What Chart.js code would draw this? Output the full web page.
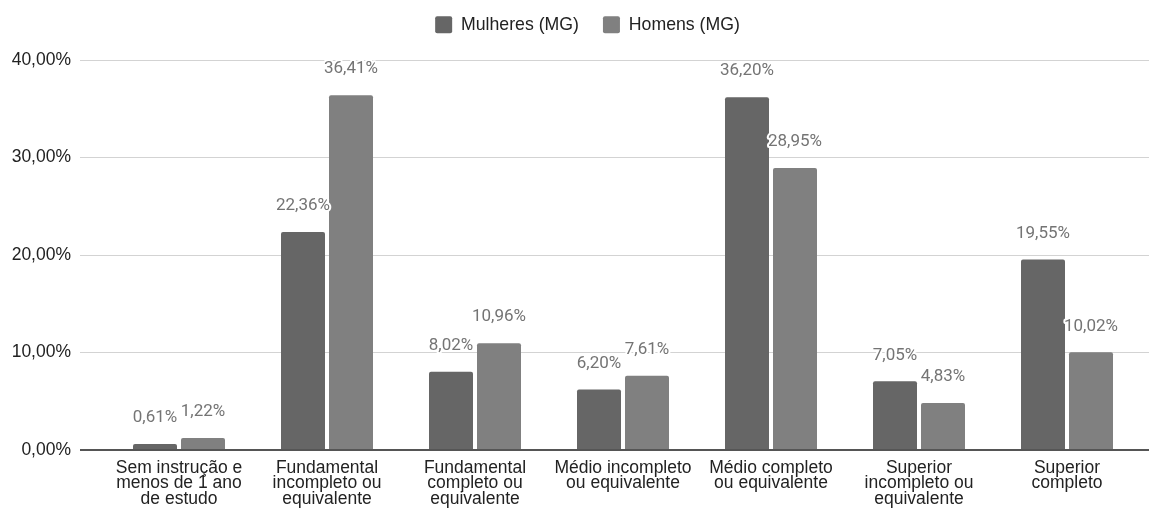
<!DOCTYPE html>
<html lang="pt-BR">
<head>
<meta charset="utf-8">
<title>Escolaridade por sexo (MG)</title>
<script src="https://cdn.jsdelivr.net/npm/chart.js@4/dist/chart.umd.min.js"></script>
<style>
  html, body { margin: 0; padding: 0; background: #ffffff; }
  canvas { display: block; }
</style>
</head>
<body>
<canvas id="chart" width="1150" height="510"></canvas>
<script>
// Níveis de instrução (rótulos do eixo X, quebrados em linhas)
const categories = [
  ['Sem instrução e', 'menos de 1 ano', 'de estudo'],
  ['Fundamental', 'incompleto ou', 'equivalente'],
  ['Fundamental', 'completo ou', 'equivalente'],
  ['Médio incompleto', 'ou equivalente'],
  ['Médio completo', 'ou equivalente'],
  ['Superior', 'incompleto ou', 'equivalente'],
  ['Superior', 'completo']
];

// Percentuais por série
const seriesNames = ['Mulheres (MG)', 'Homens (MG)'];
const mulheresMG = [0.61, 22.36, 8.02, 6.20, 36.20, 7.05, 19.55];
const homensMG   = [1.22, 36.41, 10.96, 7.61, 28.95, 4.83, 10.02];

// Escala do eixo Y
const yMin = 0;
const yMax = 40;
const yStep = 10;

const FONT = '"Liberation Sans", Arial, sans-serif';
const LABEL_FONT = 'Roboto, "Noto Sans", sans-serif';

const pct = v => v.toFixed(2).replace('.', ',') + '%';
const gridColor = v => (v === 0 ? '#555555' : '#d3d3d3');
const gridWidth = v => (v === 0 ? 2 : 1);

function alignPixel(p, w) {
  const half = w / 2;
  return Math.round(p - half) + half;
}

// Prolonga as linhas de grade até a borda direita
const gridTail = {
  id: 'gridTail',
  beforeDatasetsDraw(chart) {
    const { ctx, chartArea, scales } = chart;
    const y = scales.y;
    ctx.save();
    y.ticks.forEach(t => {
      const w = gridWidth(t.value);
      const py = alignPixel(y.getPixelForValue(t.value), w);
      ctx.beginPath();
      ctx.strokeStyle = gridColor(t.value);
      ctx.lineWidth = w;
      ctx.moveTo(chartArea.right, py);
      ctx.lineTo(chart.width - 1, py);
      ctx.stroke();
    });
    ctx.restore();
  }
};

// Espaço extra abaixo da legenda e legenda centrada sobre a área de plotagem
const legendSpacing = {
  id: 'legendSpacing',
  afterInit(chart) {
    const legend = chart.legend;
    if (!legend) return;
    const fit = legend.fit;
    legend.fit = function () {
      fit.call(this);
      this.height += 16.5;
    };
  },
  afterLayout(chart) {
    if (chart.legend) chart.legend.left += 34;
  }
};

// Rótulos de valor acima de cada barra, com contorno branco
const valueLabels = {
  id: 'valueLabels',
  afterDatasetsDraw(chart) {
    const { ctx } = chart;
    ctx.save();
    ctx.font = '17px ' + LABEL_FONT;
    ctx.textAlign = 'center';
    ctx.textBaseline = 'middle';
    ctx.lineJoin = 'round';
    chart.data.datasets.forEach((ds, di) => {
      const meta = chart.getDatasetMeta(di);
      meta.data.forEach((bar, i) => {
        const text = pct(ds.data[i]);
        const x = bar.x;
        const y = bar.y - 26;
        ctx.lineWidth = 4;
        ctx.strokeStyle = '#ffffff';
        ctx.strokeText(text, x, y);
        ctx.fillStyle = '#747474';
        ctx.fillText(text, x, y);
      });
    });
    ctx.restore();
  }
};

new Chart(document.getElementById('chart'), {
  type: 'bar',
  data: {
    labels: categories,
    datasets: [
      {
        label: seriesNames[0],
        data: mulheresMG,
        backgroundColor: '#666666',
        borderRadius: 2,
        categoryPercentage: 0.6486,
        barPercentage: 0.9167
      },
      {
        label: seriesNames[1],
        data: homensMG,
        backgroundColor: '#808080',
        borderRadius: 2,
        categoryPercentage: 0.6486,
        barPercentage: 0.9167
      }
    ]
  },
  options: {
    responsive: false,
    animation: false,
    devicePixelRatio: 1,
    layout: { padding: { left: 0, right: 9, top: -8, bottom: 0 } },
    plugins: {
      legend: {
        position: 'top',
        align: 'center',
        labels: {
          boxWidth: 17,
          boxHeight: 17,
          padding: 24,
          useBorderRadius: true,
          borderRadius: 2,
          color: '#222222',
          font: { family: FONT, size: 17.7 }
        }
      },
      tooltip: { enabled: false }
    },
    scales: {
      x: {
        grid: { display: false, drawTicks: false },
        border: { display: false },
        ticks: {
          color: '#222222',
          padding: 10,
          maxRotation: 0,
          autoSkip: false,
          font: { family: FONT, size: 17.5, lineHeight: 0.9 }
        },
        afterFit(scale) { scale.height = 60; }
      },
      y: {
        min: yMin,
        max: yMax,
        border: { display: false },
        grid: {
          color: c => gridColor(c.tick.value),
          lineWidth: c => gridWidth(c.tick.value),
          tickColor: c => gridColor(c.tick.value),
          tickLength: 25,
          drawTicks: true
        },
        ticks: {
          stepSize: yStep,
          padding: 9,
          color: '#222222',
          font: { family: FONT, size: 17.5 },
          callback: v => pct(v)
        },
        afterFit(scale) { scale.width = 105; }
      }
    }
  },
  plugins: [gridTail, legendSpacing, valueLabels]
});
</script>
</body>
</html>
